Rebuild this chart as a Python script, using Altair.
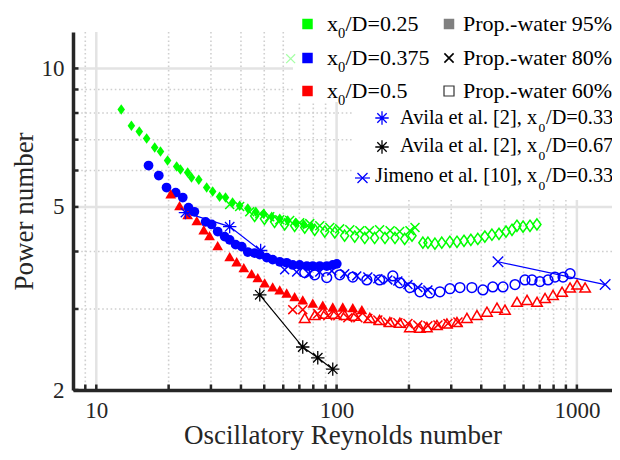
import altair as alt
import pandas as pd

# ---------------- data ----------------
green95_re = [12.7, 14.0, 15.1, 16.2, 17.5, 18.5, 19.8, 21.6, 22.4, 24.0, 24.9, 26.7, 28.8, 30.5,
              32.6, 34.5, 36.9, 39.5, 42.7, 46.1, 49.8, 53.7, 58.0, 62.6, 67.6, 73.0, 78.8]
green95_p = [8.14, 7.51, 7.29, 7.04, 6.73, 6.60, 6.31, 6.12, 6.03, 5.94, 5.79, 5.73, 5.51, 5.40,
             5.26, 5.24, 5.11, 5.03, 4.96, 4.88, 4.83, 4.76, 4.71, 4.67, 4.62, 4.58, 4.53]
green80_re = [35.9, 39.5, 43.5, 47.9, 52.7, 58.0, 63.8, 70.2, 77.3, 85.1, 93.7, 103, 113.5, 125,
              137, 151, 167, 183, 202, 212]
green80_p = [5.06, 5.01, 4.88, 4.83, 4.76, 4.69, 4.67, 4.62, 4.60, 4.55, 4.51, 4.48, 4.46, 4.44,
             4.44, 4.46, 4.44, 4.42, 4.44, 4.51]
green80_faint_re = [64.4]
green80_faint_p = [10.5]
green60_re = [45.6, 50.1, 55.2, 60.8, 66.9, 73.7, 81.1, 89.3, 98.3, 108, 119, 131, 144, 159, 175,
              192, 206, 228.6, 240, 256.6, 274, 296, 317, 339, 362, 387, 414, 443, 474, 507, 537,
              563, 597, 638, 682]
green60_p = [4.78, 4.71, 4.64, 4.58, 4.55, 4.51, 4.46, 4.42, 4.40, 4.33, 4.31, 4.28, 4.28, 4.28,
             4.28, 4.26, 4.33, 4.18, 4.18, 4.16, 4.18, 4.20, 4.20, 4.22, 4.24, 4.26, 4.31, 4.35,
             4.37, 4.42, 4.46, 4.55, 4.53, 4.55, 4.58]

blue95_re = [16.5, 18.2, 19.6, 21.4, 22.9, 24.2, 25.6, 28.5, 30.2, 32.0, 34.2, 35.9, 38.0, 40.3,
             42.7, 45.6, 47.9, 51.2, 54.2, 58.0, 62.0, 65.7, 70.2, 75.2, 79.6, 85.1, 91.0, 96.4, 100.2]
blue95_p = [6.15, 5.85, 5.51, 5.37, 5.24, 4.98, 4.88, 4.64, 4.58, 4.42, 4.31, 4.24, 4.14, 4.10,
            3.99, 3.97, 3.94, 3.88, 3.84, 3.80, 3.78, 3.74, 3.74, 3.72, 3.72, 3.72, 3.72, 3.74, 3.76]
blue80_re = [60.8, 68.2, 76.6, 85.1, 95.5, 108.1, 121.3, 134.9, 148.5, 163.4, 179.9, 198.1, 217.8, 239.9]
blue80_p = [3.65, 3.61, 3.58, 3.61, 3.63, 3.58, 3.54, 3.52, 3.49, 3.47, 3.45, 3.39, 3.34, 3.30]
blue60_re = [73.7, 81.1, 91.0, 103.1, 116.8, 133.6, 151.0, 171.4, 183.4, 201.8, 222.2, 244.4,
             269.2, 296.3, 326.1, 365.6, 406.4, 446.7, 492.6, 552.7, 608.1, 650.6, 701.8, 758.6,
             810.9, 875.9, 937.0]
blue60_p = [3.60, 3.56, 3.51, 3.56, 3.52, 3.47, 3.47, 3.54, 3.42, 3.34, 3.27, 3.25, 3.27, 3.32,
            3.34, 3.34, 3.30, 3.35, 3.35, 3.39, 3.47, 3.47, 3.44, 3.47, 3.52, 3.52, 3.58]

red95_re = [20.4, 22.2, 24.0, 26.2, 28.0, 29.6, 32.0, 35.9, 38.4, 41.1, 44.3, 47.0, 50.2, 54.2,
            58.0, 62.0, 66.9, 72.3, 79.6, 87.6, 96.4, 106.1, 116.8, 127.4]
red95_p = [5.34, 5.03, 4.81, 4.67, 4.46, 4.33, 4.12, 3.90, 3.80, 3.69, 3.58, 3.51, 3.42, 3.35,
           3.30, 3.25, 3.19, 3.14, 3.09, 3.06, 3.03, 3.03, 3.02, 2.99]
red80_re = [65.7, 72.3, 83.5, 91.9, 101.2, 111.4, 122.6, 134.9, 148.5, 163.4, 179.9, 198.1,
            217.8, 239.9, 264.1, 290.7, 319.9]
red80_p = [2.99, 2.99, 2.93, 2.90, 2.90, 2.87, 2.87, 2.86, 2.84, 2.81, 2.80, 2.79, 2.77, 2.76,
           2.77, 2.79, 2.81]
red60_re = [73.7, 81.1, 89.3, 98.3, 108.1, 119.1, 137.5, 151.0, 166.6, 183.4, 201.8, 222.2,
            237.6, 261.6, 287.9, 316.8, 348.6, 383.8, 422.5, 465.0, 502.0, 563.4, 620.2, 682.6,
            737.1, 795.7, 867.7, 937.0, 1002, 1082]
red60_p = [2.87, 2.91, 2.93, 2.93, 2.91, 2.90, 2.87, 2.84, 2.81, 2.80, 2.74, 2.73, 2.74, 2.77,
           2.79, 2.81, 2.87, 2.91, 2.96, 3.02, 2.99, 3.11, 3.14, 3.11, 3.17, 3.22, 3.27, 3.34,
           3.39, 3.34]

avila33_re = [23.5, 35.9, 48.3]
avila33_p = [4.86, 4.53, 4.02]
avila67_re = [47.9, 72.3, 83.5, 96.4]
avila67_p = [3.22, 2.48, 2.35, 2.22]
jimeno_re = [469.5, 1311]
jimeno_p = [3.80, 3.39]

x_major = [10, 100, 1000]
x_minor = [9, 20, 30, 40, 50, 60, 70, 80, 90, 200, 300, 400, 500, 600, 700, 800, 900]
y_major = [5, 10]
y_minor = [3, 4, 6, 7, 8, 9]
x_ticks = x_major + x_minor
y_ticks = [2, 3, 4, 5, 6, 7, 8, 9, 10]

# ---------------- styling ----------------
W, H = 539, 358
FONT = "Liberation Serif"
INK = "#262626"
GREEN, BLUE, RED = "#00FF00", "#0000FF", "#FF0000"
DIAMOND = "M0,-1L0.72,0L0,1L-0.72,0Z"
XSHAPE = "M-1,-1L1,1M-1,1L1,-1"
ASTER = "M-1,0L1,0M0,-1L0,1M-0.7,-0.7L0.7,0.7M-0.7,0.7L0.7,-0.7"

xscale = alt.Scale(type="log", domain=[8, 1400], nice=False)
yscale = alt.Scale(type="log", domain=[2, 12], nice=False)
xaxis = alt.Axis(values=x_major, format="d", grid=False, ticks=False, domain=True,
                 domainColor=INK, domainWidth=3.5, labelFont=FONT, labelFontSize=23,
                 labelColor=INK, labelPadding=9.5, labelFlush=False, labelOverlap=False,
                 title="Oscillatory Reynolds number", titleFont=FONT, titleFontSize=27,
                 titleFontWeight="normal", titleColor=INK, titlePadding=0, zindex=2)
yaxis = alt.Axis(values=[2, 5, 10], format="d", grid=False, ticks=False, domain=True,
                 domainColor=INK, domainWidth=3.5, labelFont=FONT, labelFontSize=23,
                 labelColor=INK, labelPadding=9, labelFlush=False, labelOverlap=False,
                 title="Power number", titleFont=FONT, titleFontSize=27,
                 titleFontWeight="normal", titleColor=INK, titlePadding=3, zindex=2)
X = alt.X("Re:Q", scale=xscale, axis=xaxis)
Y = alt.Y("P:Q", scale=yscale, axis=yaxis)

DUMMY = pd.DataFrame({"d": [0]})


def pts(re, p, shape, color, filled, size, sw=1.5, opacity=1.0):
    df = pd.DataFrame({"Re": re, "P": p})
    return alt.Chart(df).mark_point(shape=shape, filled=filled, color=color, size=size,
                                    strokeWidth=sw, opacity=opacity).encode(x=X, y=Y)


def line(re, p, color, width=1.2):
    df = pd.DataFrame({"Re": re, "P": p})
    return alt.Chart(df).mark_line(color=color, strokeWidth=width).encode(x=X, y=Y)


def vgrid(vals, color, width, dash=None):
    df = pd.DataFrame({"Re": vals})
    kw = dict(color=color, strokeWidth=width)
    if dash:
        kw["strokeDash"] = dash
    return alt.Chart(df).mark_rule(**kw).encode(x=X)


def hgrid(vals, color, width, dash=None):
    df = pd.DataFrame({"P": vals})
    kw = dict(color=color, strokeWidth=width)
    if dash:
        kw["strokeDash"] = dash
    return alt.Chart(df).mark_rule(**kw).encode(y=Y)


def txt(s, x, y, size):
    return alt.Chart(DUMMY).mark_text(text=s, font=FONT, fontSize=size, align="left",
                                      baseline="alphabetic", color="black").encode(
        x=alt.value(x), y=alt.value(y))


def sym(x, y, shape, color, filled, size, sw=1.5):
    return alt.Chart(DUMMY).mark_point(shape=shape, filled=filled, color=color, size=size,
                                       strokeWidth=sw, opacity=1).encode(
        x=alt.value(x), y=alt.value(y))


def box(x1, x2, y1, y2):
    return alt.Chart(DUMMY).mark_rect(color="white").encode(
        x=alt.value(x1), x2=alt.value(x2), y=alt.value(y1), y2=alt.value(y2))


layers = [
    vgrid(x_minor, "#cfcfcf", 1.6, [1.6, 2.6]),
    hgrid(y_minor, "#cfcfcf", 1.6, [1.6, 2.6]),
    vgrid(x_major, "#e3e3e3", 2.5),
    hgrid(y_major, "#e3e3e3", 2.5),
    box(220, 545, -24, 70),
    box(281, 545, 70, 168),
    # x ticks (inward) and y ticks (inward)
    alt.Chart(pd.DataFrame({"Re": x_ticks})).mark_rule(color=INK, strokeWidth=2.5).encode(
        x=X, y=alt.value(H), y2=alt.value(H - 5.5)),
    alt.Chart(pd.DataFrame({"P": y_ticks})).mark_rule(color=INK, strokeWidth=2.5).encode(
        y=Y, x=alt.value(0), x2=alt.value(5.5)),
    # 60 % (open)
    pts(green60_re, green60_p, DIAMOND, GREEN, False, 125),
    pts(blue60_re, blue60_p, "circle", BLUE, False, 95),
    pts(red60_re, red60_p, "triangle-up", RED, False, 110),
    # 80 % (crosses)
    pts(green80_re, green80_p, XSHAPE, GREEN, False, 80),
    pts(green80_faint_re, green80_faint_p, XSHAPE, GREEN, False, 80, 1.2, 0.35),
    pts(blue80_re, blue80_p, XSHAPE, BLUE, False, 80),
    pts(red80_re, red80_p, XSHAPE, RED, False, 80),
    # 95 % (filled)
    pts(green95_re, green95_p, DIAMOND, GREEN, True, 110),
    pts(blue95_re, blue95_p, "circle", BLUE, True, 95),
    pts(red95_re, red95_p, "triangle-up", RED, True, 115),
    # literature
    line(avila33_re, avila33_p, BLUE),
    pts(avila33_re, avila33_p, ASTER, BLUE, False, 180, 1.3),
    line(avila67_re, avila67_p, "black"),
    pts(avila67_re, avila67_p, ASTER, "black", False, 180, 1.3),
    line(jimeno_re, jimeno_p, BLUE),
    pts(jimeno_re, jimeno_p, XSHAPE, BLUE, False, 110, 1.3),
]

# ---------------- legend (upper block) ----------------
rows_top = [(-8, -1.5, GREEN, "/D=0.25", "filled", "Prop.-water 95%"),
            (26, 32.5, BLUE, "/D=0.375", "cross", "Prop.-water 80%"),
            (59, 65.5, RED, "/D=0.5", "open", "Prop.-water 60%")]
for cy, base, col, rest, kind, lab in rows_top:
    layers.append(sym(234.5, cy, "square", col, True, 110))
    layers.append(txt("x", 254, base, 22))
    layers.append(txt("0", 265, base + 7, 14.5))
    layers.append(txt(rest, 272.5, base, 22))
    if kind == "filled":
        layers.append(sym(376, cy, "square", "#808080", True, 110))
    elif kind == "cross":
        layers.append(sym(376, cy, XSHAPE, "black", False, 85, 1.6))
    else:
        layers.append(sym(376, cy, "square", "#333333", False, 100, 1.2))
    layers.append(txt(lab, 390, base, 22))

# ---------------- legend (literature block) ----------------
lit_rows = [(86, 91.5, "Avila et al. [2], x", "/D=0.33", "avila_blue", 327),
            (115, 120, "Avila et al. [2], x", "/D=0.67", "avila_black", 327),
            (146, 150, "Jimeno et al. [10], x", "/D=0.33", "jimeno", 302)]
for cy, base, main, rest, kind, x0 in lit_rows:
    if kind == "avila_blue":
        layers.append(sym(309, cy, ASTER, BLUE, False, 180, 1.3))
    elif kind == "avila_black":
        layers.append(sym(309, cy, ASTER, "black", False, 180, 1.3))
    else:
        layers.append(alt.Chart(DUMMY).mark_rule(color=BLUE, strokeWidth=1.2).encode(
            x=alt.value(282), x2=alt.value(297), y=alt.value(cy)))
        layers.append(sym(289.5, cy, XSHAPE, BLUE, False, 100, 1.3))
    layers.append(txt(main, x0, base, 20.3))
    layers.append(txt("0", 465.5, base + 8, 13.5))
    layers.append(txt(rest, 473, base, 20.3))

chart = alt.layer(*layers).properties(
    width=W, height=H,
    autosize=alt.AutoSizeParams(type="none"),
    padding={"left": 65, "top": 24, "right": 0, "bottom": 62},
    background="white",
).configure_view(stroke=None)

chart.save("out.html", embed_options={"renderer": "svg", "actions": False})
